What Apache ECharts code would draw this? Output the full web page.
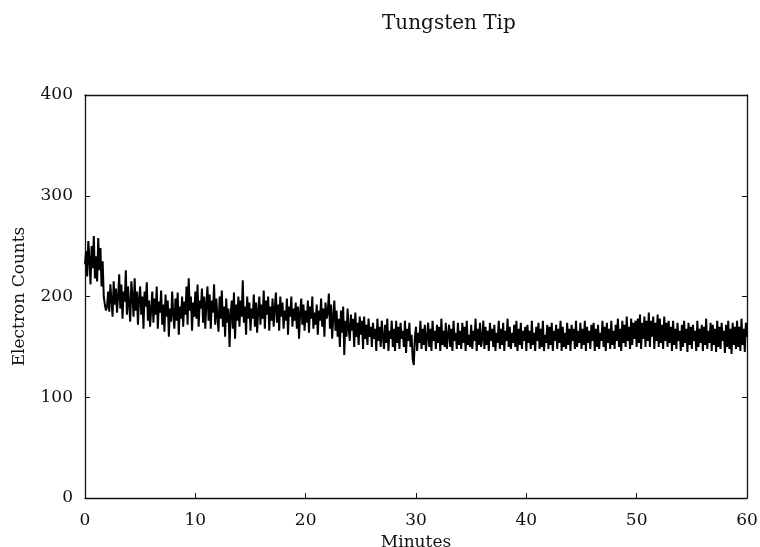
<!DOCTYPE html>
<html>
<head>
<meta charset="utf-8">
<script src="https://cdn.jsdelivr.net/npm/echarts@6/dist/echarts.min.js"></script>
<style>html,body{margin:0;padding:0;background:#fff}#c{width:760px;height:547px}</style>
</head>
<body>
<div id="c"></div>
<script>
const chartTitle = "Tungsten Tip";
const xName = "Minutes";
const yName = "Electron Counts";
const timeStep = 0.1; // minutes between samples
const counts = [
232,245,220,255,238,212,250,228,260,218,
240,215,258,226,248,210,235,200,192,186,
190,205,185,212,196,180,215,192,208,184,
200,222,188,212,178,205,195,226,182,210,
192,175,215,200,180,218,186,205,172,198,
210,182,200,168,205,190,214,176,196,170,
188,205,174,198,182,210,168,195,184,206,
172,192,165,202,180,196,160,188,175,205,
182,168,198,176,204,162,190,178,200,170,
195,182,210,172,218,186,200,166,194,180,
205,178,212,170,196,188,208,174,200,168,
192,210,176,202,168,196,184,212,172,198,
180,165,200,178,206,170,190,160,198,174,
188,150,182,196,168,204,158,192,176,200,
170,196,180,216,174,190,162,200,178,194,
166,188,178,202,170,194,164,186,200,172,
192,178,206,168,196,182,200,166,190,176,
198,170,188,204,174,192,166,200,180,194,
168,186,176,198,162,190,180,200,170,188,
176,194,168,190,158,184,198,172,192,166,
186,174,196,164,190,178,200,168,184,172,
192,162,186,176,198,170,188,160,194,178,
184,203,168,192,158,180,196,166,186,160,
178,150,186,164,190,142,176,160,188,168,
156,182,166,178,150,184,160,174,152,180,
162,176,148,180,158,172,152,178,160,170,
150,174,158,168,146,178,156,170,150,176,
160,148,172,154,178,146,166,158,176,150,
168,146,176,154,170,148,174,158,166,150,
176,144,168,156,174,150,162,138,132,160,
170,146,164,154,176,148,168,152,172,146,
160,174,150,168,146,176,156,166,148,172,
154,170,146,178,152,166,150,174,148,162,
172,150,168,146,176,156,164,148,174,152,
166,148,174,154,170,146,176,152,162,150,
172,148,166,156,178,146,168,152,174,150,
158,176,148,170,152,166,146,174,156,168,
150,172,146,164,154,176,148,168,152,174,
146,166,156,178,150,170,148,164,154,172,
150,176,146,168,152,174,148,166,156,170,
146,172,154,166,148,176,152,164,146,170,
156,174,148,168,150,176,146,162,154,172,
148,170,152,174,146,166,156,172,148,168,
154,176,146,170,150,164,148,174,152,168,
146,172,156,168,148,176,150,166,154,174,
148,168,152,176,146,170,154,166,148,172,
156,174,146,168,150,172,148,164,156,176,
150,170,146,174,154,168,148,176,152,166,
148,172,156,178,150,168,146,176,154,172,
150,180,156,170,148,178,152,174,158,176,
150,178,154,182,148,174,158,180,150,176,
156,184,150,176,160,180,148,174,156,182,
150,178,154,172,148,180,156,174,150,176,
154,170,146,176,152,168,148,174,156,166,
146,172,150,176,154,168,145,174,152,170,
148,172,156,166,146,176,150,168,154,172,
146,170,152,178,148,166,154,174,146,172,
152,168,145,176,150,170,148,174,156,166,
144,172,150,176,148,168,143,174,152,170,
148,176,150,170,146,178,152,168,145,174,
160
];
const xTicks = [0,10,20,30,40,50,60];
const yTicks = [0,100,200,300,400];

const seriesData = counts.map((v, i) => [+(i * timeStep).toFixed(2), v]);
const font = "'DejaVu Serif', 'Liberation Serif', serif";

const chart = echarts.init(document.getElementById('c'));
chart.setOption({
  animation: false,
  backgroundColor: '#fff',
  title: {
    text: chartTitle, left: 377, top: 9,
    textStyle: {fontFamily: font, fontSize: 20, fontWeight: 'normal', color: '#111'}
  },
  grid: {left: 85, right: 13, top: 95, bottom: 49, show: false, outerBoundsMode: 'none', containLabel: false},
  xAxis: [{
    type: 'value', min: xTicks[0], max: xTicks[xTicks.length-1], interval: 10,
    name: xName, nameLocation: 'middle', nameGap: 30,
    nameTextStyle: {fontFamily: font, fontSize: 17, color: '#111'},
    axisLine: {lineStyle: {color: '#111', width: 1.3}},
    axisTick: {inside: true, length: 5, lineStyle: {color: '#111'}},
    axisLabel: {fontFamily: font, fontSize: 17, color: '#111', margin: 14},
    splitLine: {show: false}
  }, {
    type: 'value', position: 'top', min: 0, max: 60, interval: 10,
    axisLine: {show: true, onZero: false, lineStyle: {color: '#111', width: 1.3}},
    axisTick: {show: false}, axisLabel: {show: false}, splitLine: {show: false}
  }],
  yAxis: [{
    type: 'value', min: yTicks[0], max: yTicks[yTicks.length-1], interval: 100,
    name: yName, nameLocation: 'middle', nameGap: 57,
    nameTextStyle: {fontFamily: font, fontSize: 17, color: '#111'},
    axisLine: {show: true, lineStyle: {color: '#111', width: 1.3}},
    axisTick: {show: true, inside: true, length: 5, lineStyle: {color: '#111'}},
    axisLabel: {fontFamily: font, fontSize: 17, color: '#111', margin: 12},
    splitLine: {show: false}
  }, {
    type: 'value', position: 'right', min: 0, max: 400, interval: 100,
    axisLine: {show: true, onZero: false, lineStyle: {color: '#111', width: 1.3}},
    axisTick: {show: true, inside: true, length: 5, lineStyle: {color: '#111'}},
    axisLabel: {show: false}, splitLine: {show: false}
  }],
  series: [{
    type: 'line', data: seriesData, showSymbol: false,
    lineStyle: {color: '#000', width: 2},
    xAxisIndex: 0, yAxisIndex: 0
  }]
});
</script>
</body>
</html>
